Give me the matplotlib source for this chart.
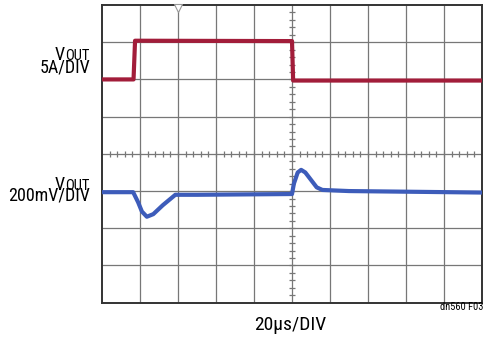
import numpy as np
import matplotlib
matplotlib.use("Agg")
import matplotlib.pyplot as plt

plt.rcParams['font.family'] = ['Roboto Condensed', 'DejaVu Sans']

# traces in scope divisions (10 x 8 grid)
i_time = [0, 0.83, 0.87, 5.0, 5.03, 10]
i_level = [6.0, 6.0, 7.04, 7.03, 5.97, 5.97]

v_time = [0, 0.82, 0.95, 1.05, 1.18, 1.35, 1.6, 1.93, 2.5, 5.0, 5.05, 5.15, 5.24, 5.35, 5.5, 5.65, 5.8, 6.5, 10]
v_level = [2.97, 2.97, 2.7, 2.45, 2.31, 2.38, 2.62, 2.9, 2.9, 2.92, 3.2, 3.5, 3.57, 3.5, 3.3, 3.1, 3.03, 3.0, 2.96]

W, H = 484, 339
fig = plt.figure(figsize=(W / 100, H / 100), dpi=100)
ax = fig.add_axes([102 / W, 36.3 / H, 380 / W, 297.7 / H])
ax.set_xlim(0, 10)
ax.set_ylim(0, 8)

grid_c = '#777777'
for x in range(1, 10):
    ax.axvline(x, color=grid_c, lw=0.9, zorder=1)
for y in range(1, 8):
    ax.axhline(y, color=grid_c, lw=0.9, zorder=1)

# minor ticks on the centre lines
minor = np.arange(0.2, 10, 0.2)
ax.plot(minor, np.full(len(minor), 4), ls='none', marker='|', ms=5, mew=0.9, color=grid_c, zorder=1)
minor_y = np.arange(0.2, 8, 0.2)
ax.plot(np.full(len(minor_y), 5), minor_y, ls='none', marker='_', ms=5, mew=0.9, color=grid_c, zorder=1)

ax.plot(i_time, i_level, color='#a21d3a', lw=3, zorder=3)
ax.plot(v_time, v_level, color='#3d5cba', lw=3, zorder=3)

# trigger marker
ax.plot(2, 7.93, marker='v', ms=6, mfc='white', mec='#999999', mew=0.8, clip_on=False, zorder=4)

ax.set_xticks([])
ax.set_yticks([])
for s in ax.spines.values():
    s.set_color('#333333')
    s.set_linewidth(1.4)


def vout_label(y_px):
    sub = fig.text(90 / W, 1 - (y_px + 1.5) / H, 'OUT', ha='right', va='baseline', fontsize=10.5)
    ax.annotate('V', xy=(0, 0), xycoords=sub, xytext=(-0.3, 1.5), textcoords='offset points',
                ha='right', va='baseline', fontsize=13, annotation_clip=False)


vout_label(58)
fig.text(90 / W, 1 - 72 / H, '5A/DIV', ha='right', va='baseline', fontsize=13)
vout_label(188)
fig.text(90 / W, 1 - 201 / H, '200mV/DIV', ha='right', va='baseline', fontsize=13)
fig.text(290 / W, 1 - 330 / H, '20µs/DIV', ha='center', va='baseline', fontsize=14)
fig.text(483 / W, 1 - 310 / H, 'dn560 F03', ha='right', va='baseline', fontsize=7.5)

fig.savefig('out.png', dpi=100)
